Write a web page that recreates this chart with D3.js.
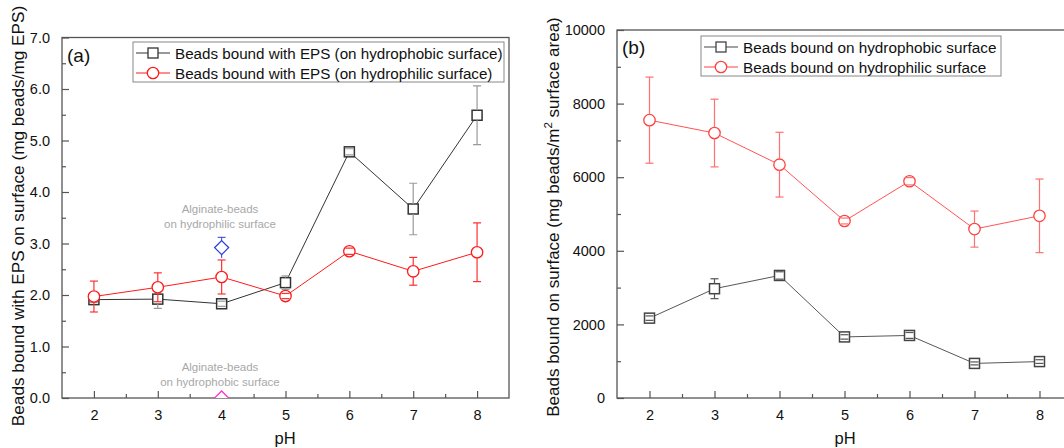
<!DOCTYPE html>
<html><head><meta charset="utf-8">
<script src="https://cdn.jsdelivr.net/npm/d3@7"></script>
<style>body{margin:0;background:#fff}svg{display:block;font-family:"Liberation Sans",Arial,sans-serif}</style>
</head><body>
<svg id="c" width="1064" height="448"></svg>
<script>
// ---- data ----
const pH = [2, 3, 4, 5, 6, 7, 8];
const aPhobic = [1.91, 1.92, 1.83, 2.24, 4.78, 3.67, 5.49];
const aPhobicErr = [0.05, 0.18, 0.05, 0.13, 0.06, 0.50, 0.57];
const aPhilic = [1.97, 2.15, 2.35, 1.98, 2.85, 2.46, 2.83];
const aPhilicErr = [0.30, 0.28, 0.33, 0.05, 0.06, 0.27, 0.57];
const alginatePhilic = {pH: 4, value: 2.92, err: 0.2};
const alginatePhobic = {pH: 4, value: 0, err: 0};
const bPhobic = [2170, 2970, 3330, 1660, 1700, 940, 990];
const bPhobicErr = [60, 270, 100, 60, 80, 40, 50];
const bPhilic = [7550, 7200, 6340, 4810, 5890, 4590, 4950];
const bPhilicErr = [1170, 920, 880, 80, 100, 490, 1000];
const aYTicks = [0, 1, 2, 3, 4, 5, 6, 7];
const bYTicks = [0, 2000, 4000, 6000, 8000, 10000];
const xTicks = [2, 3, 4, 5, 6, 7, 8];
const legendA = ["Beads bound with EPS (on hydrophobic surface)", "Beads bound with EPS (on hydrophilic surface)"];
const legendB = ["Beads bound on hydrophobic surface", "Beads bound on hydrophilic surface"];

const svg = d3.select("#c");
const AX = "#555";

function panel(o) {
  const g = svg.append("g");
  const x = d3.scaleLinear().domain([1.5, 8.5]).range([o.x0, o.x1]);
  const y = d3.scaleLinear().domain(o.yDom).range([o.y0, o.y1]);
  const id = "clip" + o.name;
  svg.append("clipPath").attr("id", id).append("rect")
    .attr("x", o.x0).attr("y", o.y1).attr("width", o.x1 - o.x0).attr("height", o.y0 - o.y1);

  g.append("rect").attr("x", o.x0).attr("y", o.y1).attr("width", o.x1 - o.x0).attr("height", o.y0 - o.y1)
    .attr("fill", "none").attr("stroke", AX).attr("stroke-width", 1.3);

  g.append("g").attr("transform", `translate(0,${o.y0})`)
    .call(d3.axisBottom(x).tickValues(xTicks).tickSize(-7).tickPadding(12).tickFormat(d3.format("d")));
  g.append("g").attr("transform", `translate(0,${o.y0})`)
    .call(d3.axisBottom(x).tickValues(d3.range(2.5, 8, 1)).tickSize(-4).tickFormat(""));
  g.append("g").attr("transform", `translate(${o.x0},0)`)
    .call(d3.axisLeft(y).tickValues(o.yTicks).tickSize(-7).tickPadding(12).tickFormat(o.fmt));
  g.append("g").attr("transform", `translate(${o.x0},0)`)
    .call(d3.axisLeft(y).tickValues(o.minor).tickSize(-4).tickFormat(""));
  g.selectAll(".domain").remove();
  g.selectAll(".tick line").attr("stroke", AX).attr("stroke-width", 1.2);
  g.selectAll(".tick text").attr("font-size", 14.5).attr("fill", "#111")
    .attr("font-family", '"Liberation Sans",Arial,sans-serif');

  const plot = g.append("g").attr("clip-path", `url(#${id})`);

  function series(vals, errs, color, errColor, shape, lw) {
    const line = d3.line().x((d, i) => x(pH[i])).y(d => y(d));
    plot.append("path").datum(vals).attr("d", line).attr("fill", "none").attr("stroke", color).attr("stroke-width", lw);
    const r = shape === "circle" ? 5.7 : 5;
    vals.forEach((v, i) => {
      const cx = x(pH[i]), cy = y(v);
      if (shape === "circle") {
        plot.append("circle").attr("cx", cx).attr("cy", cy).attr("r", r).attr("fill", "#fff").attr("stroke", color).attr("stroke-width", 1.3);
      } else {
        plot.append("rect").attr("x", cx - r).attr("y", cy - r).attr("width", 2 * r).attr("height", 2 * r)
          .attr("fill", "#fff").attr("stroke", color).attr("stroke-width", 1.5);
      }
      const top = y(v + errs[i]), bot = y(v - errs[i]);
      if (cy - top > r) plot.append("line").attr("x1", cx).attr("x2", cx).attr("y1", top).attr("y2", cy - r).attr("stroke", errColor).attr("stroke-width", 1.2);
      if (bot - cy > r) plot.append("line").attr("x1", cx).attr("x2", cx).attr("y1", cy + r).attr("y2", bot).attr("stroke", errColor).attr("stroke-width", 1.2);
      [top, bot].forEach(yy => plot.append("line").attr("x1", cx - 4).attr("x2", cx + 4).attr("y1", yy).attr("y2", yy).attr("stroke", errColor).attr("stroke-width", 1.2));
    });
  }
  o.series.forEach(s => series(s.vals, s.errs, s.color, s.errColor, s.shape, s.lw));

  g.append("text").attr("x", o.x0 + 5).attr("y", o.y1 + 24).attr("font-size", 19).attr("fill", "#111").text(o.letter);

  const L = o.legend;
  g.append("rect").attr("x", L.x).attr("y", L.y).attr("width", L.w).attr("height", L.h)
    .attr("fill", "#fff").attr("stroke", "#888").attr("stroke-width", 1);
  o.series.forEach((s, i) => {
    const ly = L.y + 11 + i * 20;
    g.append("line").attr("x1", L.x + 3).attr("x2", L.x + 37).attr("y1", ly).attr("y2", ly).attr("stroke", s.color).attr("stroke-width", 1);
    const cx = L.x + 20;
    if (s.shape === "circle") g.append("circle").attr("cx", cx).attr("cy", ly).attr("r", 5.7).attr("fill", "#fff").attr("stroke", s.color).attr("stroke-width", 1.3);
    else g.append("rect").attr("x", cx - 5).attr("y", ly - 5).attr("width", 10).attr("height", 10).attr("fill", "#fff").attr("stroke", s.color).attr("stroke-width", 1.3);
    g.append("text").attr("x", L.x + 42).attr("y", ly + 5.5).attr("font-size", L.fs).attr("fill", "#111").text(L.labels[i]);
  });

  g.append("text").attr("x", o.pHx).attr("y", 444).attr("text-anchor", "middle")
    .attr("font-size", 16.5).attr("fill", "#111").text("pH");
  return {g, x, y, plot};
}

const A = panel({
  name: "a", x0: 62, x1: 509, y0: 398, y1: 37.5, yDom: [0, 7], yTicks: aYTicks, minor: d3.range(0.5, 7, 1),
  fmt: d3.format(".1f"), letter: "(a)", pHx: 285,
  series: [
    {vals: aPhobic, errs: aPhobicErr, color: "#333", errColor: "#999", shape: "square", lw: 1},
    {vals: aPhilic, errs: aPhilicErr, color: "#ff1a1a", errColor: "#ff3030", shape: "circle", lw: 1}
  ],
  legend: {x: 133, y: 42, w: 371, h: 40, labels: legendA, fs: 15.2}
});
const B = panel({
  name: "b", x0: 617, x1: 1072, y0: 398, y1: 30, yDom: [0, 10000], yTicks: bYTicks, minor: d3.range(1000, 10000, 2000),
  fmt: d3.format("d"), letter: "(b)", pHx: 845,
  series: [
    {vals: bPhobic, errs: bPhobicErr, color: "#444", errColor: "#555", shape: "square", lw: 0.9},
    {vals: bPhilic, errs: bPhilicErr, color: "#ff4040", errColor: "#ff7070", shape: "circle", lw: 0.9}
  ],
  legend: {x: 701, y: 36, w: 300, h: 40, labels: legendB, fs: 15.3}
});

function diamond(p, d, color) {
  const cx = A.x(d.pH), cy = A.y(d.value), s = 7;
  const top = A.y(d.value + d.err);
  if (d.err > 0) {
    p.append("line").attr("x1", cx).attr("x2", cx).attr("y1", top).attr("y2", A.y(d.value - d.err)).attr("stroke", color).attr("stroke-width", 1);
    p.append("line").attr("x1", cx - 4).attr("x2", cx + 4).attr("y1", top).attr("y2", top).attr("stroke", color).attr("stroke-width", 1);
  }
  p.append("path").attr("d", `M${cx},${cy - s}L${cx + s},${cy}L${cx},${cy + s}L${cx - s},${cy}Z`)
    .attr("fill", "#fff").attr("stroke", color).attr("stroke-width", 1.3);
}
diamond(A.plot, alginatePhilic, "#2a3de0");
diamond(A.plot, alginatePhobic, "#ff33cc");

function note(lines, cx, cy) {
  lines.forEach((t, i) => A.g.append("text").attr("x", cx).attr("y", cy + i * 15).attr("text-anchor", "middle")
    .attr("font-size", 11.5).attr("fill", "#a8a8a8").text(t));
}
note(["Alginate-beads", "on hydrophilic surface"], 220, 213);
note(["Alginate-beads", "on hydrophobic surface"], 220, 371);

svg.append("text").attr("transform", "translate(24,216) rotate(-90)").attr("text-anchor", "middle")
  .attr("font-size", 17.2).attr("fill", "#111").text("Beads bound with EPS on surface (mg beads/mg EPS)");
const yb = svg.append("text").attr("transform", "translate(559,217) rotate(-90)").attr("text-anchor", "middle")
  .attr("font-size", 17).attr("fill", "#111");
yb.append("tspan").text("Beads bound on surface (mg beads/m");
yb.append("tspan").attr("font-size", 11.5).attr("dy", -7).text("2");
yb.append("tspan").attr("dy", 7).text(" surface area)");
</script>
</body></html>
